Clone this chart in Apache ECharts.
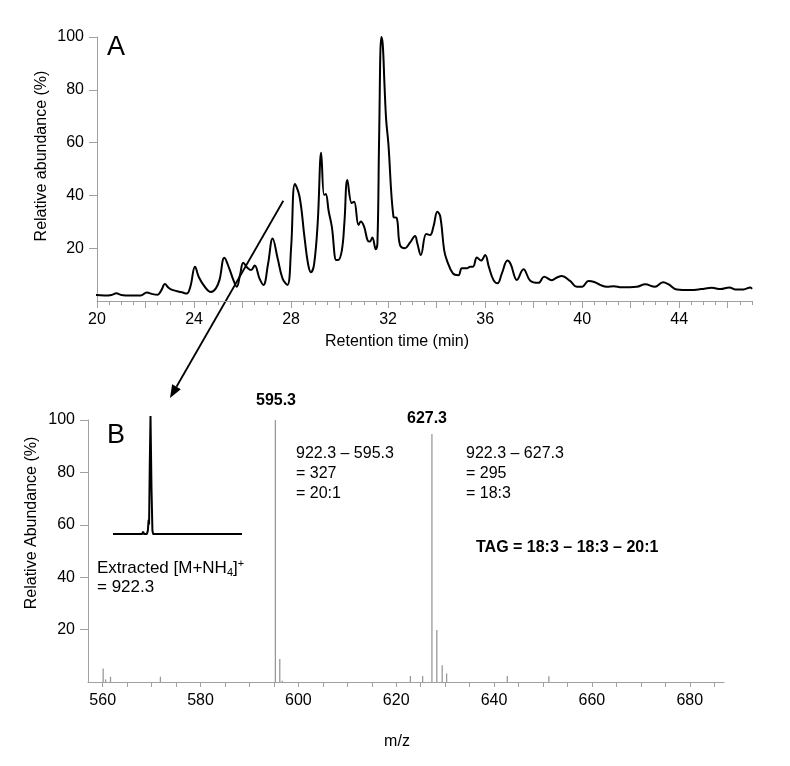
<!DOCTYPE html>
<html>
<head>
<meta charset="utf-8">
<script src="https://cdn.jsdelivr.net/npm/echarts@6/dist/echarts.min.js"></script>
<style>
  html, body { margin: 0; background: #fff; }
  #main { width: 790px; height: 766px; }
</style>
</head>
<body>
<div id="main"></div>
<script>
// A: total ion chromatogram (retention time in min, relative abundance in %)
var rtTime = [19.92, 20.3, 20.6, 20.8, 21.0, 21.4, 21.8, 22.05, 22.3, 22.5, 22.65, 22.8, 22.95, 23.1, 23.5, 23.7,
  23.85, 24.04, 24.2, 24.45, 24.7, 24.9, 25.05, 25.25, 25.45, 25.6, 25.76, 25.9, 26.03, 26.2, 26.35, 26.5, 26.7,
  26.86, 27.05, 27.24, 27.45, 27.65, 27.85, 28.0, 28.16, 28.35, 28.55, 28.7, 28.82, 28.95, 29.1, 29.24, 29.36,
  29.43, 29.55, 29.68, 29.86, 29.93, 30.09, 30.2, 30.32, 30.5, 30.6, 30.78, 30.87, 31.01, 31.15, 31.25, 31.35,
  31.49, 31.56, 31.63, 31.72, 31.78, 31.85, 31.92, 32.01, 32.22, 32.36, 32.49, 32.7, 32.9, 33.11, 33.2, 33.35,
  33.57, 33.73, 33.87, 34.03, 34.15, 34.31, 34.42, 34.67, 34.9, 35.04, 35.25, 35.38, 35.5, 35.66, 35.83, 36.0,
  36.15, 36.34, 36.51, 36.69, 36.92, 37.05, 37.31, 37.58, 37.86, 38.2, 38.43, 38.75, 38.96, 39.16, 39.5, 39.78,
  40.0, 40.26, 40.5, 40.74, 41.02, 41.3, 41.63, 42.25, 42.6, 43.0, 43.33, 43.55, 43.9, 44.45, 44.9, 45.35, 45.7,
  46.07, 46.3, 46.65, 46.93, 47.0];
var rtAbund = [2.3, 2.1, 2.3, 2.9, 2.3, 2.1, 2.1, 3.2, 2.6, 2.4, 4.0, 6.4, 5.0, 4.2, 3.3, 2.8,
  5.5, 13.0, 9.0, 5.3, 3.4, 4.8, 8.0, 16.4, 12.4, 8.5, 5.4, 10.0, 14.5, 12.6, 11.7, 13.4, 8.5,
  6.1, 14.0, 23.7, 16.0, 8.5, 6.1, 20.0, 44.3, 39.5, 24.4, 14.0, 10.9, 14.0, 30.0, 56.2, 40.2,
  40.5, 34.0, 28.2, 15.5, 15.5, 19.0, 30.0, 45.8, 37.1, 37.6, 28.8, 30.1, 28.2, 23.1, 22.5, 24.1,
  19.6, 22.0, 62.0, 100, 97.0, 82.0, 68.6, 59.7, 31.9, 31.4, 21.2, 20.0, 22.1, 24.6, 22.0, 17.4,
  25.4, 25.0, 28.2, 33.8, 32.0, 19.3, 15.5, 10.5, 9.8, 12.4, 12.4, 13.0, 13.0, 16.5, 15.3, 17.4,
  13.0, 8.0, 6.7, 10.5, 15.3, 14.0, 8.0, 12.0, 7.7, 6.9, 9.2, 7.9, 8.9, 9.5, 7.6, 5.4,
  5.4, 7.6, 7.2, 6.1, 5.4, 5.6, 5.2, 5.4, 6.3, 5.4, 7.1, 6.4, 4.4, 4.2, 4.5, 5.0, 4.5,
  5.1, 4.4, 4.4, 5.1, 4.6];
var rtLabels = [20, 24, 28, 32, 36, 40, 44];

// B: mass spectrum (m/z, relative abundance in %)
var mzValues = [560.1, 560.6, 561.6, 571.8, 595.3, 596.2, 596.7, 622.9, 625.4, 627.3, 628.3, 629.4, 630.3, 642.7, 651.2];
var mzAbund  = [5.2, 1.0, 2.0, 2.0, 100, 8.8, 0.5, 2.3, 2.3, 94.7, 19.8, 6.4, 3.3, 2.3, 2.2];
var mzLabels = [560, 580, 600, 620, 640, 660, 680];
var abundLabels = [20, 40, 60, 80, 100];

// inset: extracted ion chromatogram of [M+NH4]+ = 922.3
var insetTime   = [20, 26.1, 26.3, 26.5, 27.1, 27.3, 27.45, 27.55, 27.7, 27.85, 28.05, 28.25, 28.4, 47];
var insetSignal = [0, 0, 2, 0, 0, 3, 12, 8, 60, 100, 40, 3, 0, 0];

var FONT = 'Liberation Sans, Arial, sans-serif';
var AXIS_GREY = '#a0a0a0';

function zip(a, b) {
  var out = [];
  for (var i = 0; i < a.length; i++) out.push([a[i], b[i]]);
  return out;
}

var rtMajorTicks = [], rtMinorTicks = [], mzTicks = [];
for (var t = 20; t <= 47; t += 2) rtMajorTicks.push(t);
for (var t2 = 20; t2 <= 47; t2 += 0.5) rtMinorTicks.push(t2);
for (var m = 560; m <= 685; m += 5) mzTicks.push(m);

var chart = echarts.init(document.getElementById('main'));

var labelStyle = { color: '#000', fontSize: 16, fontFamily: FONT };

var option = {
  animation: false,
  backgroundColor: '#fff',
  grid: [
    { left: 97, top: 37, width: 655, height: 264 },
    { left: 88, top: 420, width: 636, height: 262 },
    { left: 113, top: 416, width: 129, height: 118 }
  ],
  xAxis: [
    {
      gridIndex: 0, type: 'value', min: 20, max: 47, position: 'bottom',
      axisLine: { lineStyle: { color: AXIS_GREY } },
      axisTick: { customValues: rtMajorTicks, length: 7, lineStyle: { color: AXIS_GREY } },
      axisLabel: Object.assign({ customValues: rtLabels, margin: 11 }, labelStyle),
      splitLine: { show: false }
    },
    {
      gridIndex: 0, type: 'value', min: 20, max: 47, position: 'bottom',
      axisLine: { show: false },
      axisTick: { customValues: rtMinorTicks, length: 4, lineStyle: { color: AXIS_GREY } },
      axisLabel: { show: false },
      splitLine: { show: false }
    },
    {
      gridIndex: 1, type: 'value', min: 557, max: 687,
      axisLine: { lineStyle: { color: AXIS_GREY } },
      axisTick: { customValues: mzTicks, length: 5, lineStyle: { color: AXIS_GREY } },
      axisLabel: Object.assign({ customValues: mzLabels, margin: 11 }, labelStyle),
      splitLine: { show: false }
    },
    {
      gridIndex: 2, type: 'value', min: 20, max: 47, show: false
    }
  ],
  yAxis: [
    {
      gridIndex: 0, type: 'value', min: 0, max: 100,
      axisLine: { show: true, lineStyle: { color: AXIS_GREY } },
      axisTick: { show: true, customValues: abundLabels, length: 8, lineStyle: { color: AXIS_GREY } },
      axisLabel: Object.assign({ customValues: abundLabels, margin: 13 }, labelStyle),
      splitLine: { show: false }
    },
    {
      gridIndex: 1, type: 'value', min: 0, max: 100,
      axisLine: { show: true, lineStyle: { color: AXIS_GREY } },
      axisTick: { show: true, customValues: abundLabels, length: 8, lineStyle: { color: AXIS_GREY } },
      axisLabel: Object.assign({ customValues: abundLabels, margin: 13 }, labelStyle),
      splitLine: { show: false }
    },
    {
      gridIndex: 2, type: 'value', min: 0, max: 100, show: false
    }
  ],
  series: [
    {
      name: 'TIC', type: 'line', xAxisIndex: 0, yAxisIndex: 0,
      data: zip(rtTime, rtAbund),
      showSymbol: false, smooth: 0.4,
      lineStyle: { color: '#000', width: 2 }
    },
    {
      name: 'spectrum', type: 'bar', xAxisIndex: 2, yAxisIndex: 1,
      data: zip(mzValues, mzAbund),
      barWidth: 1.3,
      itemStyle: { color: '#999999' }
    },
    {
      name: 'EIC', type: 'line', xAxisIndex: 3, yAxisIndex: 2,
      data: zip(insetTime, insetSignal),
      showSymbol: false,
      lineStyle: { color: '#000', width: 2 }
    }
  ]
};

chart.setOption(option);

// annotations
function txt(x, y, text, size, bold, align, extra) {
  var el = {
    type: 'text', x: x, y: y,
    style: Object.assign({
      text: text, fill: '#000', fontSize: size, fontFamily: FONT,
      fontWeight: bold ? 'bold' : 'normal',
      align: align || 'left', verticalAlign: 'middle',
      textAlign: align || 'left', textVerticalAlign: 'middle'
    }, extra || {})
  };
  return el;
}

// arrow from panel A down to the inset
var arrowFrom = [283.3, 200.7], arrowTo = [170, 398];
var dx = arrowTo[0] - arrowFrom[0], dy = arrowTo[1] - arrowFrom[1];
var len = Math.sqrt(dx * dx + dy * dy), ux = dx / len, uy = dy / len;
var headLen = 13, headHalf = 5;
var bx = arrowTo[0] - headLen * ux, by = arrowTo[1] - headLen * uy;

var yNameA = txt(42, 156, 'Relative abundance (%)', 16, false, 'center');
yNameA.rotation = Math.PI / 2;
var yNameB = txt(32, 523, 'Relative Abundance (%)', 16, false, 'center');
yNameB.rotation = Math.PI / 2;

var extracted = txt(97, 568, 'Extracted [M+NH{sub|4}]{sup|+}', 17, false, 'left', {
  rich: {
    sub: { fontSize: 11, fontFamily: FONT, fill: '#000', padding: [9, 0, 0, 0] },
    sup: { fontSize: 11, fontFamily: FONT, fill: '#000', padding: [0, 0, 8, 0] }
  }
});

chart.setOption({
  graphic: [
    txt(107, 48, 'A', 27, false, 'left'),
    txt(107, 436, 'B', 27, false, 'left'),
    yNameA, yNameB,
    txt(397, 342, 'Retention time (min)', 16, false, 'center'),
    txt(397, 742, 'm/z', 16, false, 'center'),
    txt(276, 401, '595.3', 16, true, 'center'),
    txt(427, 419, '627.3', 16, true, 'center'),
    txt(296, 454, '922.3 \u2013 595.3', 16, false, 'left'),
    txt(296, 474, '= 327', 16, false, 'left'),
    txt(296, 494, '= 20:1', 16, false, 'left'),
    txt(466, 454, '922.3 \u2013 627.3', 16, false, 'left'),
    txt(466, 474, '= 295', 16, false, 'left'),
    txt(466, 494, '= 18:3', 16, false, 'left'),
    txt(476, 548, 'TAG = 18:3 \u2013 18:3 \u2013 20:1', 16, true, 'left'),
    extracted,
    txt(97, 587, '= 922.3', 17, false, 'left'),
    {
      type: 'line',
      shape: { x1: arrowFrom[0], y1: arrowFrom[1], x2: bx, y2: by },
      style: { stroke: '#000', lineWidth: 1.8 }
    },
    {
      type: 'polygon',
      shape: { points: [
        [arrowTo[0], arrowTo[1]],
        [bx + headHalf * uy, by - headHalf * ux],
        [bx - headHalf * uy, by + headHalf * ux]
      ] },
      style: { fill: '#000' }
    }
  ]
});
</script>
</body>
</html>
